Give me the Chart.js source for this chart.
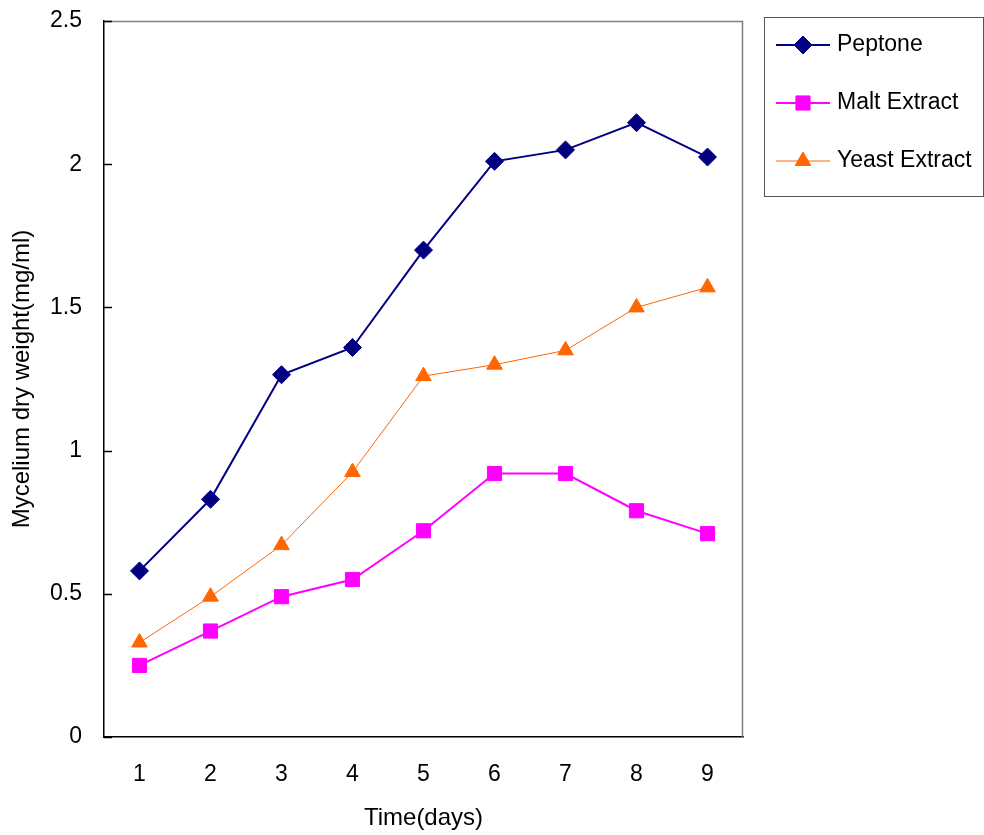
<!DOCTYPE html>
<html>
<head>
<meta charset="utf-8">
<script src="https://cdn.jsdelivr.net/npm/chart.js@4.4.1/dist/chart.umd.min.js"></script>
<style>
  body { margin: 0; background: #fff; }
  #wrap { width: 984px; height: 835px; }
</style>
</head>
<body>
<div id="wrap"><canvas id="growthChart"></canvas></div>
<script>
const days = ["1", "2", "3", "4", "5", "6", "7", "8", "9"];
const peptone = [0.58, 0.83, 1.265, 1.36, 1.70, 2.01, 2.05, 2.145, 2.025];
const maltExtract = [0.25, 0.37, 0.49, 0.55, 0.72, 0.92, 0.92, 0.79, 0.71];
const yeastExtract = [0.33, 0.49, 0.67, 0.925, 1.26, 1.30, 1.35, 1.50, 1.57];
const yTicks = [0, 0.5, 1, 1.5, 2, 2.5];

const fontFam = "'Liberation Sans', Arial, sans-serif";

// inward y ticks, gray frame on top/right, boxed legend on the right
const framePlugin = {
    id: "frame",
    afterDraw(chart) {
        const c = chart.ctx;
        const a = chart.chartArea;
        const y = chart.scales.y;
        c.save();
        c.strokeStyle = "#808080";
        c.lineWidth = 1.5;
        c.beginPath();
        c.moveTo(a.left, a.top + 0.5);
        c.lineTo(a.right - 0.5, a.top + 0.5);
        c.lineTo(a.right - 0.5, a.bottom);
        c.stroke();
        c.strokeStyle = "#000";
        c.lineWidth = 1.5;
        yTicks.forEach(v => {
            const py = Math.round(y.getPixelForValue(v)) + 0.5;
            c.beginPath();
            c.moveTo(a.left, py);
            c.lineTo(a.left + 8, py);
            c.stroke();
        });

        // legend
        const bx = 764, by = 17, bw = 219, bh = 179;
        c.strokeStyle = "#555";
        c.lineWidth = 1;
        c.strokeRect(bx + 0.5, by + 0.5, bw, bh);
        c.font = "23px " + fontFam;
        c.textBaseline = "middle";
        chart.data.datasets.forEach((ds, i) => {
            const ly = by + 28 + i * 58;
            c.strokeStyle = ds.borderColor;
            c.lineWidth = ds.borderWidth;
            c.beginPath();
            c.moveTo(776, ly);
            c.lineTo(830, ly);
            c.stroke();
            c.fillStyle = ds.backgroundColor;
            c.strokeStyle = ds.backgroundColor;
            c.lineWidth = 1;
            Chart.helpers.drawPoint(c, {
                pointStyle: ds.pointStyle,
                radius: ds.pointRadius,
                borderWidth: 1
            }, 803, ly);
            c.fillStyle = "#000";
            c.fillText(ds.label, 837, ly);
        });
        c.restore();
    }
};

const ctx = document.getElementById("growthChart").getContext("2d");
const growthChart = new Chart(ctx, {
    type: "line",
    data: {
        labels: days,
        datasets: [{
            label: "Peptone",
            data: peptone,
            borderColor: "#000080",
            backgroundColor: "#000080",
            borderWidth: 2,
            pointStyle: "rectRot",
            pointRadius: 9,
            pointBorderWidth: 1
        }, {
            label: "Malt Extract",
            data: maltExtract,
            borderColor: "#FF00FF",
            backgroundColor: "#FF00FF",
            borderWidth: 2,
            pointStyle: "rect",
            pointRadius: 10,
            pointBorderWidth: 1
        }, {
            label: "Yeast Extract",
            data: yeastExtract,
            borderColor: "#FF6600",
            backgroundColor: "#FF6600",
            borderWidth: 1,
            pointStyle: "triangle",
            pointRadius: 9,
            pointBorderWidth: 1
        }]
    },
    options: {
        responsive: true,
        maintainAspectRatio: false,
        animation: false,
        layout: { padding: { top: 21, right: 241, left: 0, bottom: 0 } },
        plugins: {
            legend: { display: false },
            tooltip: { enabled: false }
        },
        scales: {
            x: {
                offset: true,
                afterFit(scale) {
                    scale.height = 98;
                    scale.paddingLeft = 0;
                    scale.paddingRight = 0;
                },
                grid: { display: false, drawTicks: false },
                border: { color: "#000", width: 1.5 },
                ticks: {
                    color: "#000",
                    padding: 24,
                    font: { family: fontFam, size: 23 }
                },
                title: {
                    display: true,
                    text: "Time(days)",
                    color: "#000",
                    padding: { top: 4, bottom: 2 },
                    font: { family: fontFam, size: 24 }
                }
            },
            y: {
                min: 0,
                max: 2.5,
                afterBuildTicks(scale) {
                    scale.ticks = yTicks.map(v => ({ value: v }));
                },
                afterFit(scale) {
                    scale.width = 104;
                    scale.paddingTop = 0;
                    scale.paddingBottom = 0;
                },
                grid: { display: false, drawTicks: false },
                border: { color: "#000", width: 1.5 },
                ticks: {
                    color: "#000",
                    padding: 22,
                    font: { family: fontFam, size: 23 },
                    callback: v => String(v)
                },
                title: {
                    display: true,
                    text: "Mycelium dry weight(mg/ml)",
                    color: "#000",
                    padding: { top: 8, bottom: 4 },
                    font: { family: fontFam, size: 24 }
                }
            }
        }
    },
    plugins: [framePlugin]
});
</script>
</body>
</html>
